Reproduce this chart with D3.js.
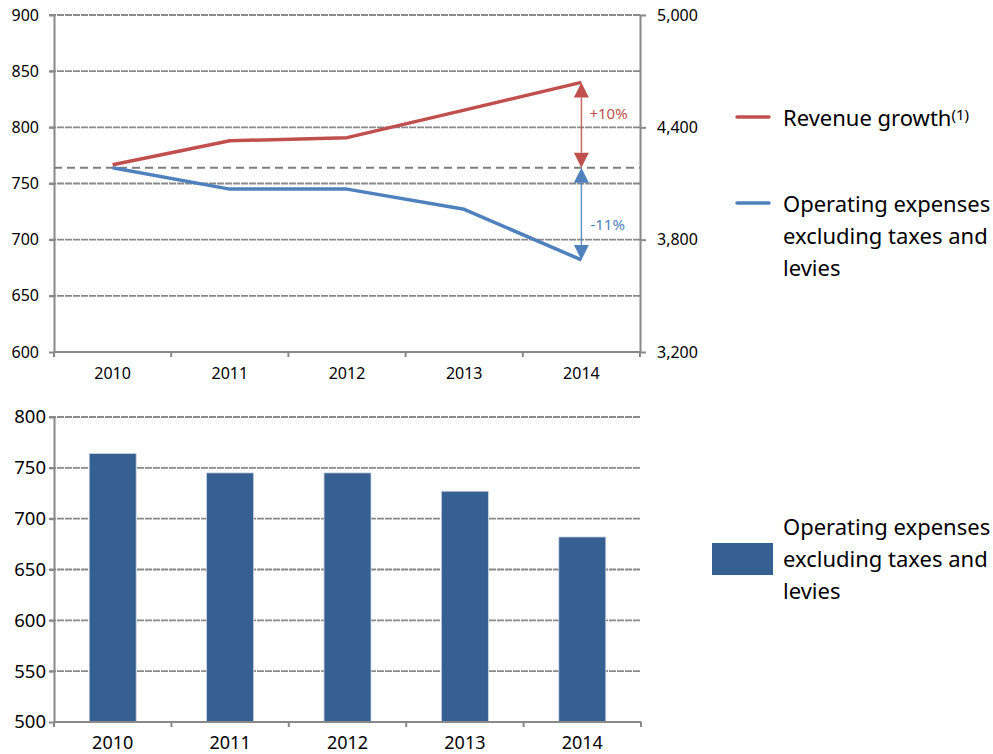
<!DOCTYPE html>
<html>
<head>
<meta charset="utf-8">
<script src="https://cdn.jsdelivr.net/npm/d3@7/dist/d3.min.js"></script>
<style>
  html, body { margin: 0; padding: 0; background: #fff; }
  svg { display: block; font-family: "Noto Sans", "Open Sans", sans-serif; }
</style>
</head>
<body>
<svg id="chart" width="993" height="754"></svg>
<script>
// Years shown on both charts
const years = ["2010", "2011", "2012", "2013", "2014"];
// Operating expenses excluding taxes and levies (left axis / bars)
const opex = [764, 745, 745, 727, 682];
// Revenue (right axis of the top chart)
const revenue = [4200, 4328, 4345, 4492, 4640];
// Axis tick values
const leftTicks = [600, 650, 700, 750, 800, 850, 900];
const rightTicks = [3200, 3800, 4400, 5000];
const barTicks = [500, 550, 600, 650, 700, 750, 800];
// Legend labels
const lineLegend = [
  { key: "rev", lines: ["Revenue growth"], sup: "(1)" },
  { key: "opex", lines: ["Operating expenses", "excluding taxes and", "levies"] }
];
const barLegend = ["Operating expenses", "excluding taxes and", "levies"];

const RED = "#c0504d", BLUE = "#4f81bd", BAR = "#376092";
const AXIS = "#888888", GRID = "#8a8a8a", REF = "#7f7f7f";

const svg = d3.select("#chart");

/* ---------- Top chart: revenue vs opex lines ---------- */
const gTop = svg.append("g");
const xT = d3.scaleBand().domain(years).range([54, 640]);
const yL = d3.scaleLinear().domain([600, 900]).range([352, 15]);
const yR = d3.scaleLinear().domain([3200, 5000]).range([352, 15]);

// horizontal grid
gTop.append("g").selectAll("line").data(leftTicks.slice(1)).join("line")
  .attr("x1", 49).attr("x2", 640)
  .attr("y1", d => yL(d)).attr("y2", d => yL(d))
  .attr("stroke", GRID).attr("stroke-width", 1.8).attr("stroke-dasharray", "7,1");

// left axis
const axL = gTop.append("g").attr("transform", "translate(54,0)")
  .call(d3.axisLeft(yL).tickValues(leftTicks).tickSize(5).tickPadding(10).tickSizeOuter(0));
axL.select(".domain").attr("stroke", AXIS).attr("stroke-width", 2);
axL.selectAll(".tick line").attr("stroke", AXIS).attr("stroke-width", 2);
axL.selectAll(".tick text").attr("font-size", 16).attr("fill", "#000")
  .attr("font-family", "'Noto Sans', sans-serif");

// right axis
const axR = gTop.append("g").attr("transform", "translate(640,0)")
  .call(d3.axisRight(yR).tickValues(rightTicks).tickFormat(d3.format(",")).tickSize(6).tickPadding(11).tickSizeOuter(0));
axR.select(".domain").attr("stroke", AXIS).attr("stroke-width", 2);
axR.selectAll(".tick line").attr("stroke", AXIS).attr("stroke-width", 2);
axR.selectAll(".tick text").attr("font-size", 16).attr("fill", "#000")
  .attr("font-family", "'Noto Sans', sans-serif");

// bottom axis line + boundary ticks
gTop.append("line").attr("x1", 54).attr("x2", 640).attr("y1", 352).attr("y2", 352)
  .attr("stroke", AXIS).attr("stroke-width", 2);
const bounds = years.map(y => xT(y)).concat([xT.range()[1]]);
gTop.append("g").selectAll("line").data(bounds).join("line")
  .attr("x1", d => d).attr("x2", d => d).attr("y1", 352).attr("y2", 357)
  .attr("stroke", AXIS).attr("stroke-width", 2);
gTop.append("g").selectAll("text").data(years).join("text")
  .attr("x", d => xT(d) + xT.bandwidth() / 2).attr("y", 379)
  .attr("text-anchor", "middle").attr("font-size", 16).attr("fill", "#000").text(d => d);

// dashed reference at the 2010 opex level
gTop.append("line").attr("x1", 54).attr("x2", 640)
  .attr("y1", yL(opex[0])).attr("y2", yL(opex[0]))
  .attr("stroke", REF).attr("stroke-width", 2).attr("stroke-dasharray", "8,5");

// series lines
const cx = d => xT(d) + xT.bandwidth() / 2;
const revLine = d3.line().x((d, i) => cx(years[i])).y(d => yR(d));
const opexLine = d3.line().x((d, i) => cx(years[i])).y(d => yL(d));
gTop.append("path").datum(revenue).attr("d", revLine)
  .attr("fill", "none").attr("stroke", RED).attr("stroke-width", 3.5).attr("stroke-linejoin", "round");
gTop.append("path").datum(opex).attr("d", opexLine)
  .attr("fill", "none").attr("stroke", BLUE).attr("stroke-width", 3.5).attr("stroke-linejoin", "round");

// double-headed arrows showing change 2010 -> 2014
function arrow(x, yA, yB, color) {
  const g = gTop.append("g");
  const h = 15, w = 7.5;
  g.append("line").attr("x1", x).attr("x2", x).attr("y1", yA + h).attr("y2", yB - h)
    .attr("stroke", color).attr("stroke-width", 1.5).attr("opacity", 0.85);
  g.append("path").attr("d", `M${x},${yA} L${x - w},${yA + h} L${x + w},${yA + h} Z`).attr("fill", color);
  g.append("path").attr("d", `M${x},${yB} L${x - w},${yB - h} L${x + w},${yB - h} Z`).attr("fill", color);
}
const ax = cx(years[4]);
const refY = yL(opex[0]);
arrow(ax, yR(revenue[4]), refY, RED);
arrow(ax, refY, yL(opex[4]), BLUE);

const pct = d3.format("+.0%");
const revChange = revenue[4] / revenue[0] - 1;
const opexChange = opex[4] / opex[0] - 1;
gTop.append("text").attr("x", ax + 8).attr("y", yR(revenue[4]) + 37)
  .attr("font-size", 15).attr("fill", RED).text(pct(revChange));
gTop.append("text").attr("x", ax + 9).attr("y", yL(opex[4]) - 30)
  .attr("font-size", 15).attr("fill", BLUE).text(pct(opexChange).replace("−", "-"));

// legend for the line chart
const legT = svg.append("g");
const legY = [117, 203];
lineLegend.forEach((item, i) => {
  const y0 = legY[i];
  legT.append("line").attr("x1", 737).attr("x2", 769).attr("y1", y0).attr("y2", y0)
    .attr("stroke", item.key === "rev" ? RED : BLUE).attr("stroke-width", 3.5).attr("stroke-linecap", "round");
  const t = legT.append("text").attr("x", 783).attr("y", y0 + 9)
    .attr("font-size", 22).attr("fill", "#000");
  item.lines.forEach((ln, j) => {
    t.append("tspan").attr("x", 783).attr("dy", j === 0 ? 0 : 32).text(ln);
  });
  if (item.sup) {
    t.append("tspan").attr("dy", -6).attr("font-size", 15).text(item.sup);
  }
});

/* ---------- Bottom chart: opex bars ---------- */
const gBot = svg.append("g");
const xB = d3.scaleBand().domain(years).range([54, 641]).paddingInner(0.6).paddingOuter(0.3);
const xBoundary = d3.scaleBand().domain(years).range([54, 641]);
const yB = d3.scaleLinear().domain([500, 800]).range([722, 417]);

gBot.append("g").selectAll("line").data(barTicks.slice(1)).join("line")
  .attr("x1", 49).attr("x2", 641)
  .attr("y1", d => yB(d)).attr("y2", d => yB(d))
  .attr("stroke", GRID).attr("stroke-width", 1.8).attr("stroke-dasharray", "7,1");

const axB = gBot.append("g").attr("transform", "translate(54,0)")
  .call(d3.axisLeft(yB).tickValues(barTicks).tickSize(5).tickPadding(3).tickSizeOuter(0));
axB.select(".domain").attr("stroke", AXIS).attr("stroke-width", 2);
axB.selectAll(".tick line").attr("stroke", AXIS).attr("stroke-width", 2);
axB.selectAll(".tick text").attr("font-size", 18.5).attr("fill", "#000")
  .attr("font-family", "'Noto Sans', sans-serif");

gBot.append("g").selectAll("rect").data(opex).join("rect")
  .attr("x", (d, i) => xB(years[i])).attr("width", xB.bandwidth())
  .attr("y", d => yB(d)).attr("height", d => yB(500) - yB(d))
  .attr("fill", BAR).attr("stroke", "#c9d3e0").attr("stroke-width", 0.8);

gBot.append("line").attr("x1", 54).attr("x2", 641).attr("y1", 722).attr("y2", 722)
  .attr("stroke", AXIS).attr("stroke-width", 2);
const boundsB = years.map(y => xBoundary(y)).concat([641]);
gBot.append("g").selectAll("line").data(boundsB).join("line")
  .attr("x1", d => d).attr("x2", d => d).attr("y1", 722).attr("y2", 727)
  .attr("stroke", AXIS).attr("stroke-width", 2);
gBot.append("g").selectAll("text").data(years).join("text")
  .attr("x", d => xBoundary(d) + xBoundary.bandwidth() / 2).attr("y", 749)
  .attr("text-anchor", "middle").attr("font-size", 18).attr("fill", "#000").text(d => d);

// legend for the bar chart
const legB = svg.append("g");
legB.append("rect").attr("x", 712).attr("y", 543).attr("width", 61).attr("height", 32)
  .attr("fill", BAR);
const tb = legB.append("text").attr("x", 783).attr("y", 535).attr("font-size", 22).attr("fill", "#000");
barLegend.forEach((ln, j) => {
  tb.append("tspan").attr("x", 783).attr("dy", j === 0 ? 0 : 32).text(ln);
});
</script>
</body>
</html>
